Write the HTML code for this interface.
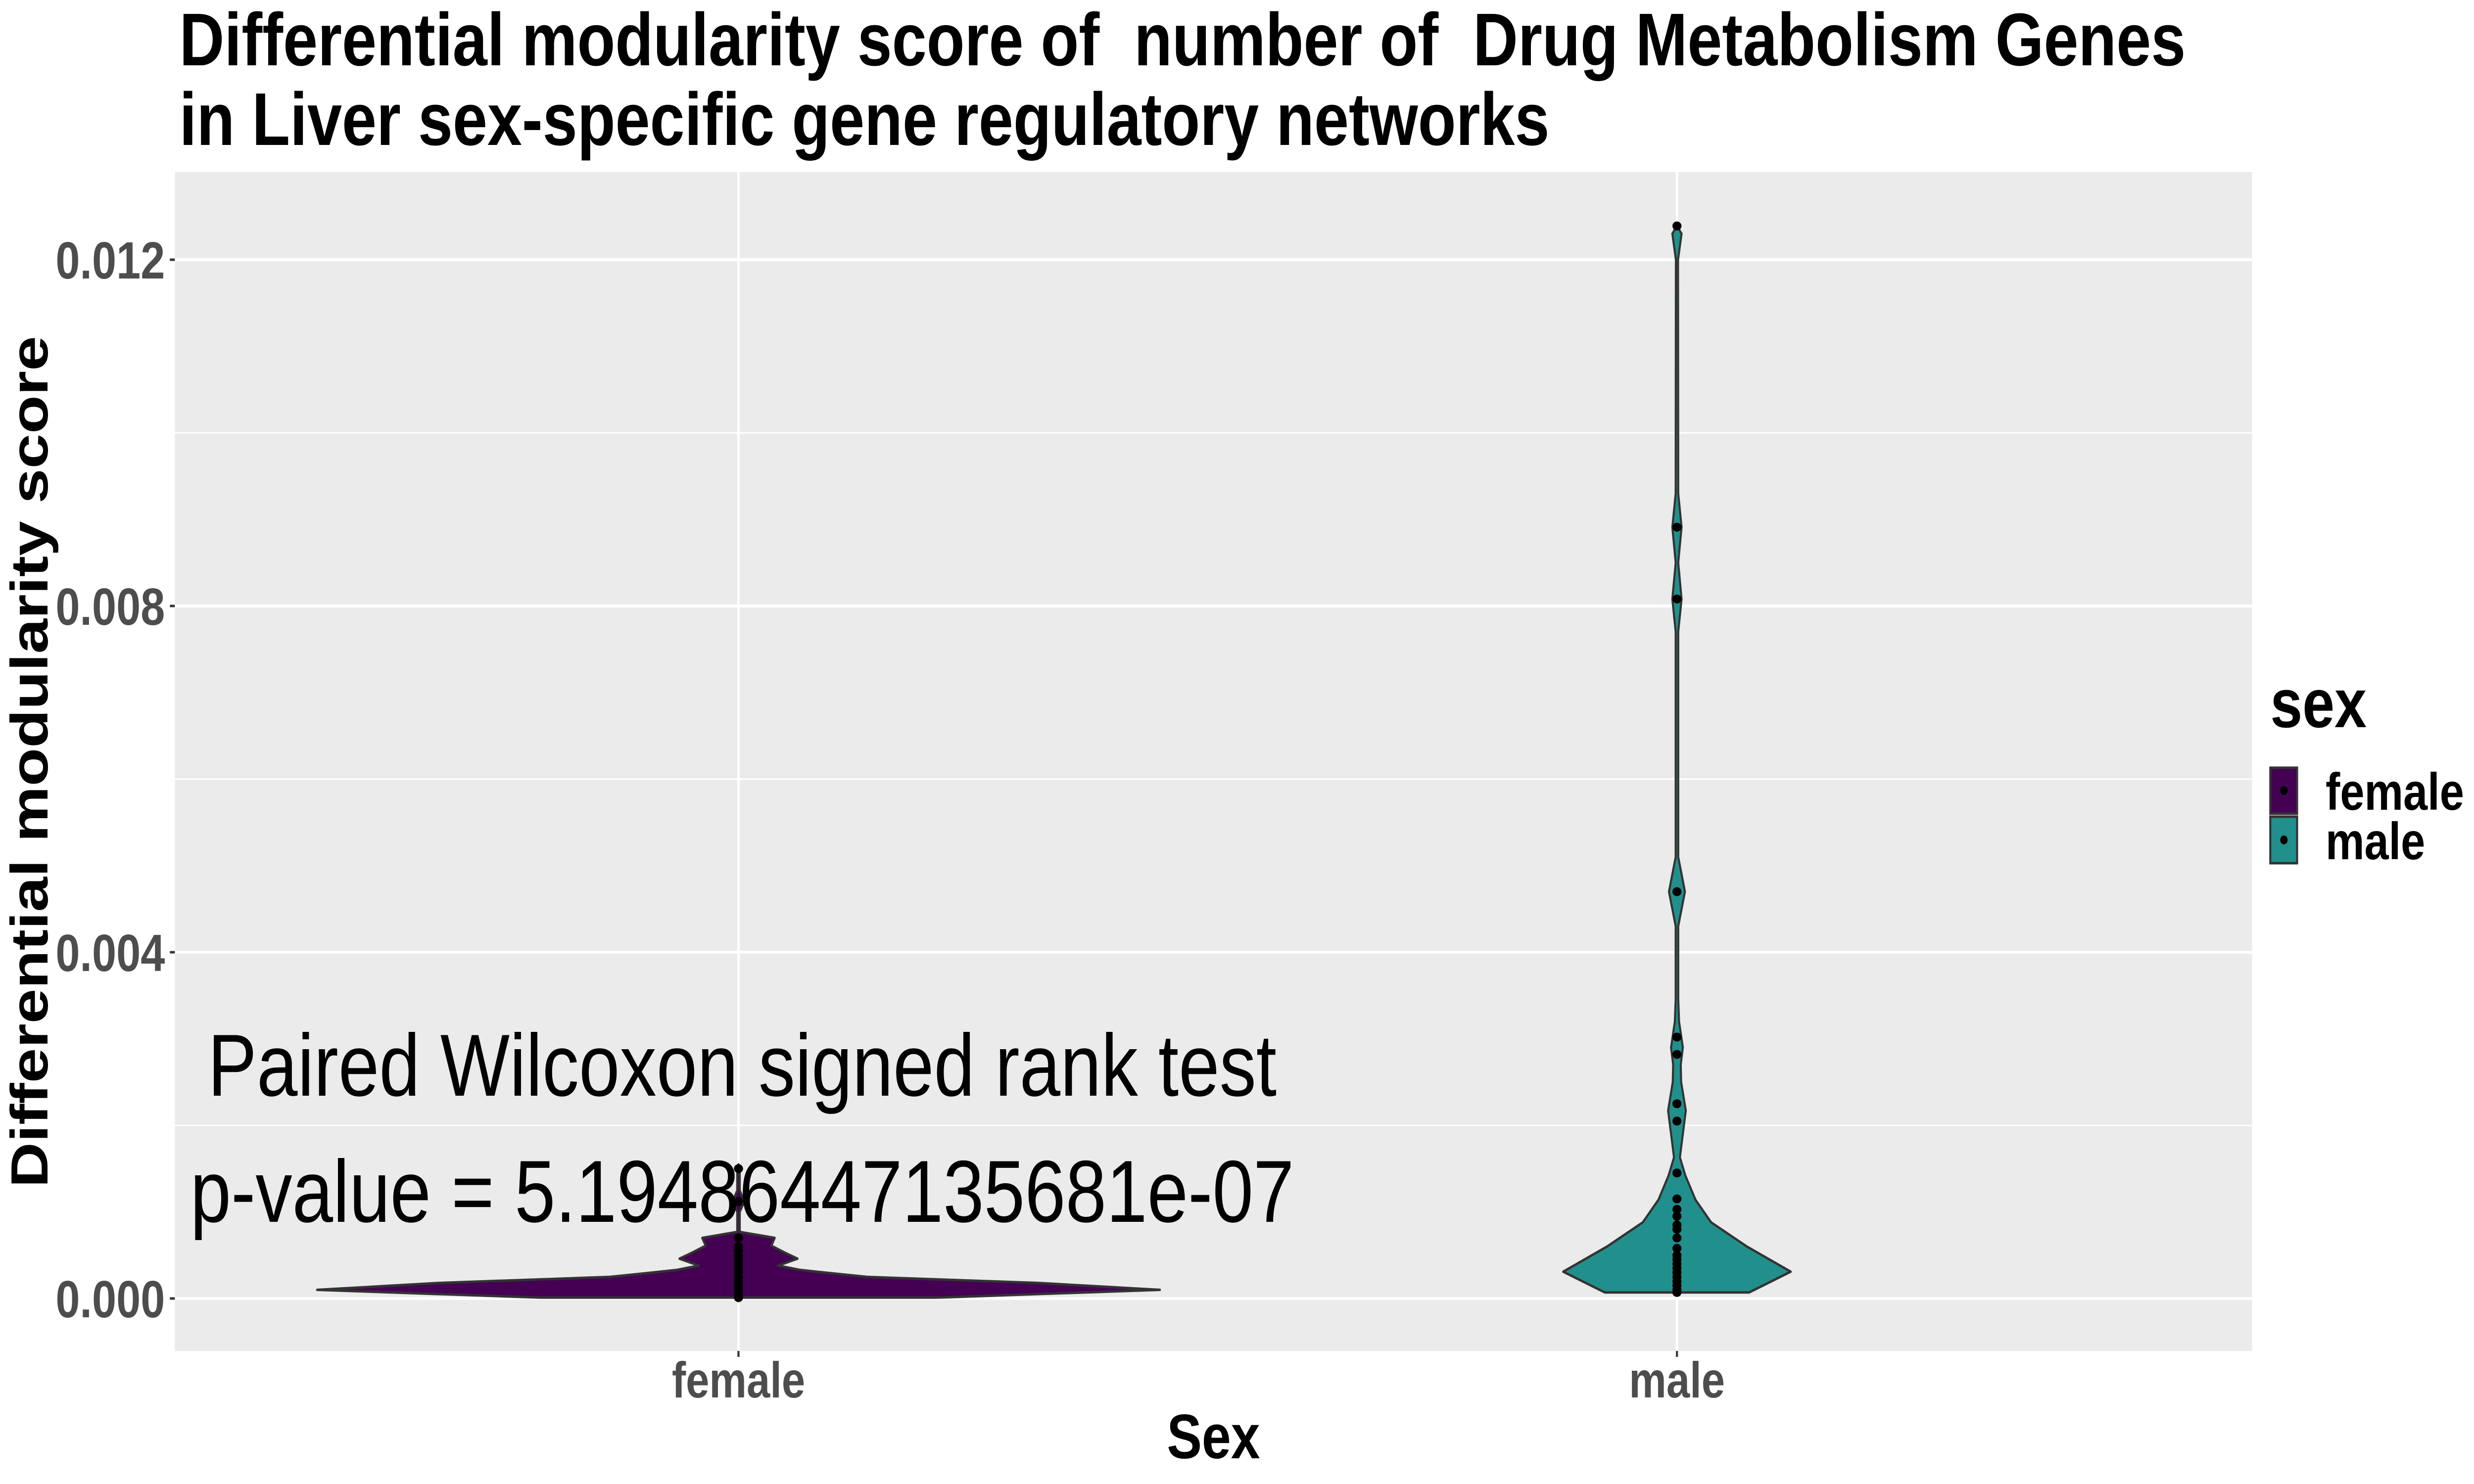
<!DOCTYPE html>
<html><head><meta charset="utf-8"><style>
html,body{margin:0;padding:0;background:#fff;width:100%;height:100%;overflow:hidden}
svg{display:block;width:100vw;height:100vh}
text{font-family:"Liberation Sans",Arial,sans-serif;white-space:pre}
</style></head><body>
<svg id="chart" viewBox="0 0 6000 3000" preserveAspectRatio="none" xmlns="http://www.w3.org/2000/svg">
<rect x="0" y="0" width="6000" height="3000" fill="#fff"/>
<g>
<text x="435" y="132" font-size="151" font-weight="bold" fill="#000" xml:space="preserve">Differential modularity score of  number of  Drug Metabolism Genes</text>
<text x="435" y="293" font-size="151" font-weight="bold" fill="#000">in Liver sex-specific gene regulatory networks</text>
</g>
<rect x="424" y="348" width="5038" height="2383" fill="#ebebeb"/>
<g id="grid"></g>
<g id="violins"></g>
<g id="points"></g>
<g id="yaxis"></g>
<g id="xaxis"></g>
<g>
<text x="1800" y="2215" font-size="178" text-anchor="middle" fill="#000">Paired Wilcoxon signed rank test</text>
<text x="1800" y="2470" font-size="178" text-anchor="middle" fill="#000">p-value = 5.19486447135681e-07</text>
</g>
<text transform="translate(115,1540) rotate(-90)" font-size="127" font-weight="bold" text-anchor="middle" fill="#000">Differential modularity score</text>
<text x="2943" y="2948" font-size="127" font-weight="bold" text-anchor="middle" fill="#000">Sex</text>
<g>
<text x="5506" y="1470" font-size="140" font-weight="bold" fill="#000">sex</text>
<g>
<rect x="5506" y="1552" width="65" height="93" fill="#440154" stroke="#333" stroke-width="5"/>
<circle cx="5539" cy="1598" r="9" fill="#000"/>
<text x="5640" y="1637" font-size="106" font-weight="bold" fill="#000">female</text>
</g>
<g>
<rect x="5506" y="1651" width="65" height="94" fill="#21908C" stroke="#333" stroke-width="5"/>
<circle cx="5539" cy="1698" r="9" fill="#000"/>
<text x="5640" y="1737" font-size="106" font-weight="bold" fill="#000">male</text>
</g>
</g>
</svg>
<script>
const categories = ["female", "male"];
const colors = ["#440154", "#21908C"];
const yTicks = [0, 0.004, 0.008, 0.012];
const yTickLabels = ["0.000", "0.004", "0.008", "0.012"];
const yMinor = [0.002, 0.006, 0.010];
// violin profiles: score values and relative half-widths (density)
const femaleProfileY = [0.00001,0.0001,0.00018,0.00025,0.00029,0.00033,0.00038,0.00046,0.00053,0.00061,0.0007,0.00077,0.001,0.00112,0.00125,0.0015,0.00155];
const femaleProfileW = [0.468,1.0,0.71,0.305,0.224,0.147,0.094,0.14,0.11,0.078,0.086,0.003,0.003,0.014,0.003,0.003,0];
const maleProfileY = [0.00007,0.00031,0.0006,0.00088,0.00114,0.00142,0.00163,0.0019,0.00217,0.0025,0.0027,0.0029,0.0032,0.00346,0.0043,0.0047,0.0051,0.0077,0.00808,0.0085,0.00891,0.0093,0.012,0.0123,0.01239];
const maleProfileW = [0.171,0.27,0.166,0.081,0.044,0.02,0.007,0.014,0.021,0.01,0.009,0.014,0.005,0.003,0.003,0.019,0.003,0.003,0.011,0.003,0.011,0.003,0.0025,0.011,0];
const femalePoints = [0.00001,0.00005,0.0001,0.00015,0.0002,0.00025,0.0003,0.00035,0.0004,0.00045,0.0005,0.00055,0.0006,0.0007,0.00112,0.0015];
const malePoints = [0.01239,0.00891,0.00808,0.0047,0.00302,0.00282,0.00225,0.00205,0.00145,0.00115,0.00103,0.00095,0.00085,0.0008,0.0007,0.00058,0.0005,0.00045,0.0004,0.00035,0.0003,0.00025,0.0002,0.00015,0.0001,0.00007];

const NS = "http://www.w3.org/2000/svg";
const PL = 424, PR = 5462, PT = 348, PB = 2731;
function y(v){ return 2625 - v * 175000; }
function x(i){ return [1791, 4067][i]; }
const widthScale = 1022;
function mk(tag, attrs, parent){
  const e = document.createElementNS(NS, tag);
  for (const k in attrs) e.setAttribute(k, attrs[k]);
  parent.appendChild(e); return e;
}
const grid = document.getElementById('grid');
yMinor.forEach(v => {
  const l = mk('line', {x1:PL, x2:PR, y1:y(v), y2:y(v), stroke:'#fff', 'stroke-width':3}, grid);
  
  
});
yTicks.forEach(v => {
  const l = mk('line', {x1:PL, x2:PR, y1:y(v), y2:y(v), stroke:'#fff', 'stroke-width':6}, grid);
  
  
});
categories.forEach((c, i) => {
  const l = mk('line', {x1:x(i), x2:x(i), y1:PT, y2:PB, stroke:'#fff', 'stroke-width':6}, grid);
  
  
});
const vg = document.getElementById('violins');
const profiles = [[femaleProfileY, femaleProfileW], [maleProfileY, maleProfileW]];
profiles.forEach((p, i) => {
  const [py, pw] = p; const cx = x(i);
  let right = [], left = [];
  for (let k = 0; k < py.length; k++) {
    right.push((cx + pw[k]*widthScale).toFixed(1) + ',' + y(py[k]).toFixed(1));
    left.push((cx - pw[k]*widthScale).toFixed(1) + ',' + y(py[k]).toFixed(1));
  }
  const d = 'M' + right.join(' L') + ' L' + left.reverse().join(' L') + ' Z';
  const path = mk('path', {d:d, fill:colors[i], stroke:'#333', 'stroke-width':5, 'stroke-linejoin':'round'}, vg);
  
  
});
const pg = document.getElementById('points');
[femalePoints, malePoints].forEach((pts, i) => {
  pts.forEach(v => {
    const c = mk('ellipse', {cx:x(i), cy:y(v), rx:11, ry:9, fill:'#000'}, pg);
    
    
  });
});
const ya = document.getElementById('yaxis');
yTicks.forEach((v, k) => {
  const t = mk('line', {x1:412, x2:424, y1:y(v), y2:y(v), stroke:'#333', 'stroke-width':5}, ya);
  
  
  const tx = mk('text', {x:400, y:y(v)+38, 'font-size':106, 'font-weight':'bold', 'text-anchor':'end', fill:'#4d4d4d'}, ya);
  tx.textContent = yTickLabels[k];
  
  
});
const xa = document.getElementById('xaxis');
categories.forEach((c, i) => {
  const t = mk('line', {x1:x(i), x2:x(i), y1:PB, y2:PB+12, stroke:'#333', 'stroke-width':5}, xa);
  
  
  const tx = mk('text', {x:x(i), y:2825, 'font-size':102, 'font-weight':'bold', 'text-anchor':'middle', fill:'#4d4d4d'}, xa);
  tx.textContent = c;
  
  
});
</script>
</body></html>
